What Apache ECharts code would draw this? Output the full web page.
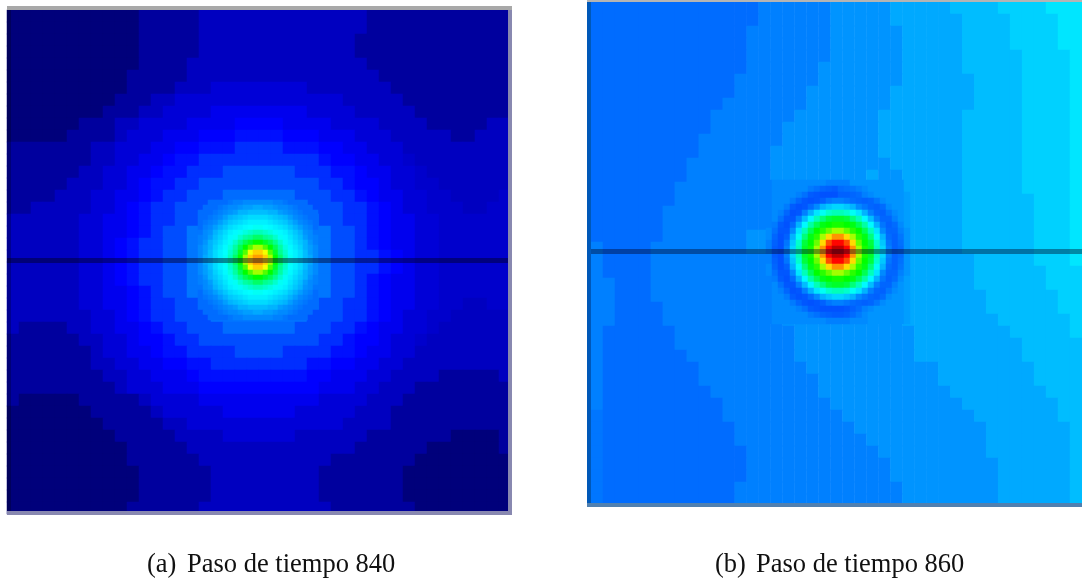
<!DOCTYPE html>
<html><head><meta charset="utf-8">
<style>html,body{margin:0;padding:0;background:#fff}#c{width:1082px;height:581px}</style>
<script src="https://cdn.jsdelivr.net/npm/echarts@6/dist/echarts.min.js"></script>
</head><body><div id="c"></div>
<script>
const captionTags = ["(a)", "(b)"];
const captions = ["Paso de tiempo 840", "Paso de tiempo 860"];
const probeLineA = [[0,250.5],[501,250.5]];
const probeLineB = [[0,249.5],[491,249.5]];
const panelA = [
[1,1,1,1,1,1,1,1,1,1,1,4,4,4,4,4,7,7,7,7,7,7,7,7,7,7,7,7,7,7,4,4,4,4,4,4,4,4,4,4,4,4],
[1,1,1,1,1,1,1,1,1,1,1,4,4,4,4,4,7,7,7,7,7,7,7,7,7,7,7,7,7,7,4,4,4,4,4,4,4,4,4,4,4,4],
[1,1,1,1,1,1,1,1,1,1,1,4,4,4,4,4,7,7,7,7,7,7,7,7,7,7,7,7,7,4,4,4,4,4,4,4,4,4,4,4,4,4],
[1,1,1,1,1,1,1,1,1,1,1,4,4,4,4,4,7,7,7,7,7,7,7,7,7,7,7,7,7,4,4,4,4,4,4,4,4,4,4,4,4,4],
[1,1,1,1,1,1,1,1,1,1,1,4,4,4,4,7,7,7,7,7,7,7,7,7,7,7,7,7,7,7,4,4,4,4,4,4,4,4,4,4,4,4],
[1,1,1,1,1,1,1,1,1,1,4,4,4,4,4,7,7,7,7,7,7,7,7,7,7,7,7,7,7,7,7,4,4,4,4,4,4,4,4,4,4,4],
[1,1,1,1,1,1,1,1,1,1,4,4,4,4,7,7,7,9,9,9,9,9,9,9,9,7,7,7,7,7,7,7,4,4,4,4,4,4,4,4,4,4],
[1,1,1,1,1,1,1,1,1,4,4,4,7,7,9,9,9,9,9,9,9,9,9,9,9,9,9,9,7,7,7,7,7,4,4,4,4,4,4,4,4,4],
[1,1,1,1,1,1,1,1,4,4,4,7,7,9,9,9,9,11,11,11,11,11,11,11,11,9,9,9,9,7,7,7,7,7,4,4,4,4,4,4,4,4],
[1,1,1,1,1,1,4,4,4,7,7,9,9,9,9,11,11,11,11,12.5,12.5,12.5,12.5,11,11,11,11,9,9,9,9,7,7,7,7,4,4,4,4,4,7,7],
[1,1,1,1,1,4,4,4,4,7,9,9,9,11,11,11,12.5,12.5,12.5,14,14,14,14,12.5,12.5,12.5,11,11,11,9,9,9,7,7,7,7,7,4,4,7,7,7],
[4,4,4,4,4,4,4,7,7,9,9,9,11,11,12.5,12.5,14,14,14,17,17,17,17,14,14,14,12.5,12.5,11,11,9,9,9,7,7,7,7,7,7,7,7,7],
[4,4,4,4,4,4,4,7,7,9,9,11,11,12.5,14,14,17,17,17,17,17,17,17,17,17,17,14,12.5,12.5,11,11,9,9,8,7,7,7,7,7,7,7,7],
[4,4,4,4,4,4,7,7,9,9,11,11,12.5,14,14,17,17,17,20,20,20,20,20,20,17,17,17,14,14,12.5,11,11,9,9,8,7,7,7,7,7,7,7],
[4,4,4,4,4,7,7,7,9,9,11,12.5,14,14,17,17,20,20,20,20,20,20,20,20,20,20,17,17,14,12.5,12.5,11,9,9,8,8,7,7,7,7,7,7],
[4,4,4,4,7,7,7,9,9,11,11,12.5,14,17,17,20,20,20,23,23,23,23,23,23,20,20,20,17,17,14,12.5,11,11,9,9,8,8,7,7,7,7,8],
[4,4,7,7,7,7,7,9,9,11,12.5,14,17,17,20,20,20,24,24,24,24,24,24,24,24,20,20,20,17,17,14,12.5,11,9,9,8,8,8,7,7,8,8],
[7,7,7,7,7,7,9,9,11,11,12.5,14,17,17,20,20,24,24,24,24,24,24,24,24,24,24,20,20,17,17,14,12.5,11,11,9,9,8,8,8,8,8,8],
[7,7,7,7,7,7,9,9,11,11,12.5,14,17,20,20,24,24,24,24,24,24,24,24,24,24,24,24,20,20,17,14,12.5,11,11,9,9,8,8,8,8,8,8],
[7,7,7,7,7,7,9,9,11,12.5,14,17,17,20,20,24,24,24,24,24,24,24,24,24,24,24,24,20,20,17,14,12.5,11,11,9,9,8,8,8,8,8,8],
[7,7,7,7,7,7,9,9,11,12.5,14,17,17,20,20,24,24,24,24,24,24,24,24,24,24,24,24,20,20,17,17,14,12.5,11,9,9,8,8,8,8,8,8],
[7,7,7,7,7,7,9,9,11,12.5,14,17,17,20,20,24,24,24,24,24,24,24,24,24,24,24,24,20,20,17,17,14,12.5,11,9,9,8,8,8,8,8,8],
[7,7,7,7,7,7,9,9,11,12.5,14,17,17,20,20,24,24,24,24,24,24,24,24,24,24,24,24,20,20,17,14,12.5,11,11,9,9,8,8,8,8,8,8],
[7,7,7,7,7,7,9,9,11,11,12.5,14,17,20,20,24,24,24,24,24,24,24,24,24,24,24,24,20,20,17,14,12.5,11,11,9,9,8,8,8,8,8,8],
[7,7,7,7,7,7,9,9,11,11,12.5,14,17,17,20,20,24,24,24,24,24,24,24,24,24,24,20,20,17,17,14,12.5,11,11,9,9,8,8,7,7,8,8],
[7,7,7,7,7,7,7,9,9,11,12.5,14,17,17,20,20,20,24,24,24,24,24,24,24,24,20,20,20,17,17,14,12.5,11,9,9,8,8,7,7,7,7,7],
[7,4,4,4,4,7,7,9,9,11,11,12.5,14,17,17,20,20,20,23,23,23,23,23,23,20,20,20,17,17,14,12.5,11,11,9,9,8,7,7,7,7,7,7],
[4,4,4,4,4,4,7,7,9,9,11,12.5,12.5,14,17,17,20,20,20,20,20,20,20,20,20,20,17,17,14,12.5,12.5,11,9,9,8,7,7,7,7,7,7,7],
[4,4,4,4,4,4,4,7,9,9,11,11,12.5,14,14,17,17,17,17,20,20,20,20,17,17,17,17,14,14,12.5,11,11,9,9,7,7,7,7,7,7,7,7],
[4,4,4,4,4,4,4,7,7,9,9,11,11,12.5,12.5,14,14,17,17,17,17,17,17,17,17,14,14,12.5,12.5,11,11,9,9,7,7,7,7,7,7,7,7,7],
[4,4,4,4,4,4,4,4,7,7,9,9,11,11,11,12.5,14,14,14,14,14,14,14,14,14,12.5,12.5,11,11,11,9,9,7,7,7,7,4,4,4,4,4,7],
[4,4,4,4,4,4,4,4,4,7,9,9,9,11,11,11,12.5,12.5,12.5,12.5,12.5,12.5,12.5,12.5,12.5,12.5,11,11,11,9,9,7,7,7,4,4,4,4,4,4,4,4],
[4,1,1,1,1,1,4,4,4,4,4,7,9,9,9,9,11,11,11,11,11,11,11,11,11,11,9,9,9,9,7,7,7,4,4,4,4,4,4,4,4,4],
[1,1,1,1,1,1,1,4,4,4,4,4,7,9,9,9,9,9,11,11,11,11,11,11,9,9,9,9,9,7,7,7,4,4,4,4,4,4,4,4,4,4],
[1,1,1,1,1,1,1,1,4,4,4,4,4,7,7,9,9,9,9,9,9,9,9,9,9,9,9,9,7,7,7,7,4,4,4,4,4,4,4,4,4,4],
[1,1,1,1,1,1,1,1,1,4,4,4,4,4,7,7,7,7,9,9,9,9,9,9,7,7,7,7,7,7,4,4,4,4,4,4,4,1,1,1,1,4],
[1,1,1,1,1,1,1,1,1,1,4,4,4,4,4,7,7,7,7,7,7,7,7,7,7,7,7,7,7,4,4,4,4,4,4,1,1,1,1,1,1,4],
[1,1,1,1,1,1,1,1,1,1,4,4,4,4,4,4,7,7,7,7,7,7,7,7,7,7,7,4,4,4,4,4,4,4,1,1,1,1,1,1,1,1],
[1,1,1,1,1,1,1,1,1,1,1,4,4,4,4,4,4,7,7,7,7,7,7,7,7,7,4,4,4,4,4,4,4,1,1,1,1,1,1,1,1,1],
[1,1,1,1,1,1,1,1,1,1,1,4,4,4,4,4,4,7,7,7,7,7,7,7,7,7,4,4,4,4,4,4,4,1,1,1,1,1,1,1,1,1],
[1,1,1,1,1,1,1,1,1,1,1,4,4,4,4,4,4,7,7,7,7,7,7,7,7,7,4,4,4,4,4,4,4,1,1,1,1,1,1,1,1,1],
[1,1,1,1,1,1,1,1,1,1,4,4,4,4,4,4,7,7,7,7,7,7,7,7,7,7,7,4,4,4,4,4,4,4,1,1,1,1,1,1,1,1]
];
const panelAInner = [
[20,20,23,23,23,23,24,25,25,26,26,26,26,26,26,25,25,24,23,23,23,23,20,20],
[20,23,23,23,24,25,26,26,27,28,28,29,29,28,28,27,26,26,25,24,23,23,23,20],
[23,23,23,24,25,26,27,28,30,30,31,31,31,31,30,30,28,27,26,25,24,23,23,23],
[23,23,24,25,26,28,30,31,32,33,34,34,34,34,33,32,31,30,28,26,25,24,23,23],
[23,24,25,26,28,30,32,33,34,35,36,36,36,36,35,34,33,32,30,28,26,25,24,23],
[23,25,26,28,30,32,34,35,36,37,37.5,38,38,37.5,37,36,35,34,32,30,28,26,25,23],
[24,26,27,30,32,34,36,37,38,39,40,41,41,40,39,38,37,36,34,32,30,27,26,24],
[25,26,28,31,33,35,37,38,40,42,43,45,45,43,42,40,38,37,35,33,31,28,26,25],
[25,27,30,32,34,36,38,40,43,46,48,50,50,48,46,43,40,38,36,34,32,30,27,25],
[26,28,30,33,35,37,39,42,46,50,54,58,58,54,50,46,42,39,37,35,33,30,28,26],
[26,28,31,34,36,37.5,40,43,48,54,62,67,67,62,54,48,43,40,37.5,36,34,31,28,26],
[26,29,31,34,36,38,41,45,50,58,67,72,72,67,58,50,45,41,38,36,34,31,29,26],
[26,29,31,34,36,38,41,45,50,58,67,72,72,67,58,50,45,41,38,36,34,31,29,26],
[26,28,31,34,36,37.5,40,43,48,54,62,67,67,62,54,48,43,40,37.5,36,34,31,28,26],
[26,28,30,33,35,37,39,42,46,50,54,58,58,54,50,46,42,39,37,35,33,30,28,26],
[25,27,30,32,34,36,38,40,43,46,48,50,50,48,46,43,40,38,36,34,32,30,27,25],
[25,26,28,31,33,35,37,38,40,42,43,45,45,43,42,40,38,37,35,33,31,28,26,25],
[24,26,27,30,32,34,36,37,38,39,40,41,41,40,39,38,37,36,34,32,30,27,26,24],
[23,25,26,28,30,32,34,35,36,37,37.5,38,38,37.5,37,36,35,34,32,30,28,26,25,23],
[23,24,25,26,28,30,32,33,34,35,36,36,36,36,35,34,33,32,30,28,26,25,24,23],
[23,23,24,25,26,28,30,31,32,33,34,34,34,34,33,32,31,30,28,26,25,24,23,23],
[23,23,23,24,25,26,27,28,30,30,31,31,31,31,30,30,28,27,26,25,24,23,23,23],
[20,23,23,23,24,25,26,26,27,28,28,29,29,28,28,27,26,26,25,24,23,23,23,20],
[20,20,23,23,23,23,24,25,25,26,26,26,26,26,26,25,25,24,23,23,23,23,20,20]
];
const panelB = [
[23,23,23,23,23,23,23,23,23,23,23,23,23,23,25,25,25,25,25,25,27,27,27,27,27,29,29,29,29,29,31,31,31,31,33,33,33,33,35,35,35],
[23,23,23,23,23,23,23,23,23,23,23,23,23,23,25,25,25,25,25,25,27,27,27,27,27,29,29,29,29,29,29,31,31,31,31,33,33,33,33,35,35],
[23,23,23,23,23,23,23,23,23,23,23,23,23,25,25,25,25,25,25,25,27,27,27,27,27,27,29,29,29,29,29,31,31,31,31,33,33,33,33,35,35],
[23,23,23,23,23,23,23,23,23,23,23,23,23,25,25,25,25,25,25,25,27,27,27,27,27,27,29,29,29,29,29,31,31,31,31,33,33,33,33,35,35],
[23,23,23,23,23,23,23,23,23,23,23,23,23,25,25,25,25,25,25,25,27,27,27,27,27,27,29,29,29,29,29,31,31,31,31,31,33,33,33,33,35],
[23,23,23,23,23,23,23,23,23,23,23,23,23,25,25,25,25,25,25,27,27,27,27,27,27,27,29,29,29,29,29,31,31,31,31,31,33,33,33,33,35],
[23,23,23,23,23,23,23,23,23,23,23,23,25,25,25,25,25,25,25,27,27,27,27,27,27,27,29,29,29,29,29,29,31,31,31,31,33,33,33,33,35],
[23,23,23,23,23,23,23,23,23,23,23,23,25,25,25,25,25,25,27,27,27,27,27,27,27,29,29,29,29,29,29,29,31,31,31,31,33,33,33,33,35],
[23,23,23,23,23,23,23,23,23,23,23,25,25,25,25,25,25,25,27,27,27,27,27,27,27,29,29,29,29,29,29,29,31,31,31,31,33,33,33,33,35],
[23,23,23,23,23,23,23,23,23,23,25,25,25,25,25,25,25,27,27,27,27,27,27,27,29,29,29,29,29,29,29,31,31,31,31,31,33,33,33,33,35],
[23,23,23,23,23,23,23,23,23,23,25,25,25,25,25,25,27,27,27,27,27,27,27,27,29,29,29,29,29,29,29,31,31,31,31,31,33,33,33,33,35],
[23,23,23,23,23,23,23,23,23,25,25,25,25,25,25,25,27,27,27,27,27,27,27,27,29,29,29,29,29,29,29,31,31,31,31,31,33,33,33,33,35],
[23,23,23,23,23,23,23,23,23,25,25,25,25,25,25,27,27,27,27,27,27,27,27,27,29,29,29,29,29,29,29,31,31,31,31,31,33,33,33,33,35],
[23,23,23,23,23,23,23,23,25,25,25,25,25,25,25,27,27,27,27,27,27,27,27,27,27,29,29,29,29,29,29,31,31,31,31,31,33,33,33,33,35],
[23,23,23,23,23,23,23,23,25,25,25,25,25,25,25,27,27,27,27,27,27,27,27,29,27,27,29,29,29,29,29,31,31,31,31,31,33,33,33,33,35],
[23,23,23,23,23,23,23,25,25,25,25,25,25,25,25,27,27,27,27,27,27,27,27,27,27,29,29,29,29,29,29,31,31,31,31,31,33,33,33,33,35],
[23,23,23,23,23,23,23,25,25,25,25,25,25,25,25,27,27,27,27,27,27,27,27,27,27,29,29,29,29,29,29,31,31,31,31,31,31,33,33,33,35],
[23,23,23,23,23,23,25,25,25,25,25,25,25,25,25,27,27,27,27,27,27,27,27,27,27,27,29,29,29,29,29,31,31,31,31,31,31,33,33,33,35],
[23,23,23,23,23,23,25,25,25,25,25,25,25,25,25,27,27,27,27,27,27,27,27,27,27,27,29,29,29,29,29,31,31,31,31,31,31,33,33,33,35],
[23,23,23,23,23,23,25,25,25,25,25,25,25,27,27,27,27,27,27,27,27,27,27,27,27,27,29,29,29,29,29,31,31,31,31,31,31,33,33,33,35],
[25,23,23,23,23,25,25,25,25,25,25,25,25,27,27,27,27,27,27,27,27,27,27,27,27,27,29,29,29,29,29,31,31,31,31,31,31,33,33,33,35],
[25,23,23,23,23,25,25,25,25,25,25,25,25,25,25,27,27,27,27,27,27,27,27,27,27,27,29,29,29,29,29,29,31,31,31,31,31,33,33,33,35],
[25,23,23,23,23,25,25,25,25,25,25,25,25,25,25,27,27,27,27,27,27,27,27,27,27,27,29,29,29,29,29,29,31,31,31,31,31,31,33,33,33],
[25,25,23,23,23,25,25,25,25,25,25,25,25,25,25,27,27,27,27,27,27,27,27,27,27,27,29,29,29,29,29,29,31,31,31,31,31,31,33,33,33],
[25,25,23,23,23,25,25,25,25,25,25,25,25,25,25,27,27,27,27,27,27,27,27,27,27,27,29,29,29,29,29,29,29,31,31,31,31,31,31,33,33],
[25,25,23,23,23,23,25,25,25,25,25,25,25,25,25,25,27,27,27,27,27,27,27,27,27,27,29,29,29,29,29,29,29,31,31,31,31,31,31,33,33],
[25,25,23,23,23,23,25,25,25,25,25,25,25,25,25,25,27,27,27,27,27,27,27,27,27,27,29,29,29,29,29,29,29,29,31,31,31,31,31,31,33],
[25,23,23,23,23,23,23,25,25,25,25,25,25,25,25,25,25,27,27,27,27,27,27,27,27,27,27,29,29,29,29,29,29,29,29,31,31,31,31,31,33],
[25,23,23,23,23,23,23,25,25,25,25,25,25,25,25,25,25,27,27,27,27,27,27,27,27,27,27,29,29,29,29,29,29,29,29,29,31,31,31,31,31],
[25,23,23,23,23,23,23,23,25,25,25,25,25,25,25,25,25,27,27,27,27,27,27,27,27,27,27,29,29,29,29,29,29,29,29,29,31,31,31,31,31],
[25,23,23,23,23,23,23,23,23,25,25,25,25,25,25,25,25,25,27,27,27,27,27,27,27,27,27,27,27,29,29,29,29,29,29,29,29,31,31,31,31],
[25,23,23,23,23,23,23,23,23,25,25,25,25,25,25,25,25,25,25,27,27,27,27,27,27,27,27,27,27,29,29,29,29,29,29,29,29,31,31,31,31],
[25,23,23,23,23,23,23,23,23,23,25,25,25,25,25,25,25,25,25,27,27,27,27,27,27,27,27,27,27,27,29,29,29,29,29,29,29,29,31,31,31],
[25,23,23,23,23,23,23,23,23,23,23,25,25,25,25,25,25,25,25,25,27,27,27,27,27,27,27,27,27,27,27,29,29,29,29,29,29,29,29,31,31],
[24,23,23,23,23,23,23,23,23,23,23,25,25,25,25,25,25,25,25,25,25,27,27,27,27,27,27,27,27,27,27,27,29,29,29,29,29,29,29,31,31],
[24,23,23,23,23,23,23,23,23,23,23,23,25,25,25,25,25,25,25,25,25,25,27,27,27,27,27,27,27,27,27,27,27,29,29,29,29,29,29,29,31],
[24,23,23,23,23,23,23,23,23,23,23,23,25,25,25,25,25,25,25,25,25,25,25,27,27,27,27,27,27,27,27,27,27,29,29,29,29,29,29,29,31],
[24,23,23,23,23,23,23,23,23,23,23,23,23,25,25,25,25,25,25,25,25,25,25,25,27,27,27,27,27,27,27,27,27,29,29,29,29,29,29,29,31],
[24,23,23,23,23,23,23,23,23,23,23,23,23,25,25,25,25,25,25,25,25,25,25,25,25,27,27,27,27,27,27,27,27,27,29,29,29,29,29,29,31],
[24,23,23,23,23,23,23,23,23,23,23,23,23,25,25,25,25,25,25,25,25,25,25,25,25,27,27,27,27,27,27,27,27,27,29,29,29,29,29,29,31],
[24,23,23,23,23,23,23,23,23,23,23,23,25,25,25,25,25,25,25,25,25,25,25,25,25,25,27,27,27,27,27,27,27,27,29,29,29,29,29,29,31],
[24,23,23,23,23,23,23,23,23,23,23,23,25,25,25,25,25,25,25,25,25,25,25,25,25,25,27,27,27,27,27,27,27,27,29,29,29,29,29,29,31]
];
const panelBInner = [
[25,26,26,26,26,26,26,26,26,26,25,25,25,25,27,27,27,27,27,27,27,27,27,29],
[25,26,26,26,26,26,26,24.5,23.5,22.5,22,21.5,23,23.5,24,25,26,27,27,27,27,27,27,29],
[25,26,26,26,26,25,23.5,21.5,21,20.5,20.5,20.5,22,22,22.5,23,25,26,27,27,27,27,27,28],
[25,26,26,26,24.5,22.5,21,20.5,21,22,24,25,25,24,23,22.5,22,22.5,24,26,27,27,27,28],
[25,26,26,24.5,21.5,20.5,21,23,26,30,32,33.5,33.5,32,30,26,24,22.5,22,23,26,27,27,28],
[25,26,25,22.5,20.5,21,25,30,35,38,40,41,41,40,38,35,30,25,22.5,22,24,26,27,28],
[25,26,23.5,21,21,25,31,37,41,44,47,48,48,47,44,41,37,31,25,22.5,22.5,25,27,28],
[25,24.5,21.5,20.5,23,30,37,42,46,49,50,51,51,50,49,46,42,37,30,24,22,23,26,28],
[26,23.5,21,21,26,35,41,46,50,52,55,58,58,55,52,50,46,41,35,26,22.5,22.5,25,27],
[26,22.5,20.5,22,30,38,44,49,52,58,66,73,73,66,58,52,49,44,38,30,23,22,24,27],
[25,22,20.5,24,32,40,47,50,55,66,80,87,87,80,66,55,50,47,40,32,24,22,23.5,27],
[25,21.5,20.5,25,33.5,41,48,51,58,73,87,94,94,87,73,58,51,48,41,33.5,25,22,23,27],
[25,21.5,20.5,25,33.5,41,48,51,58,73,87,94,94,87,73,58,51,48,41,33.5,25,22,23,27],
[25,22,20.5,24,32,40,47,50,55,66,80,87,87,80,66,55,50,47,40,32,24,22,23.5,27],
[26,22.5,20.5,22,30,38,44,49,52,58,66,73,73,66,58,52,49,44,38,30,23,22,24,27],
[26,23.5,21,21,26,35,41,46,50,52,55,58,58,55,52,50,46,41,35,26,22.5,22.5,25,27],
[25,24.5,21.5,20.5,23,30,37,42,46,49,50,51,51,50,49,46,42,37,30,24,22,23,26,28],
[25,26,23.5,21,21,25,31,37,41,44,47,48,48,47,44,41,37,31,25,22.5,22.5,25,27,28],
[25,26,25,22.5,20.5,21,25,30,35,38,40,41,41,40,38,35,30,25,22.5,22,24,26,27,28],
[25,26,26,24.5,21.5,20.5,21,23,26,30,32,33.5,33.5,32,30,26,24,22.5,22,23,26,27,27,28],
[25,26,26,26,24.5,22.5,21,20.5,21,22,24,25,25,24,23,22.5,22,22.5,24,26,27,27,27,28],
[25,26,26,26,26,25,23.5,21.5,21,20.5,20.5,20.5,20.5,21,22,23,25,26,27,27,27,27,27,28],
[25,26,26,26,26,26,26,24.5,23.5,22.5,22,21.5,21.5,22,23,24.5,26,27,27,27,27,27,27,28],
[25,26,26,26,26,26,26,26,26,26,25,25,25,25,26,26,26,27,27,27,27,27,27,28]
];
const jetStops = ['#000070','#0000ff','#0080ff','#00ffff','#00ff00','#ffff00','#ff8000','#ff0000','#800000'];

function cells(rows){const out=[];rows.forEach((r,j)=>r.forEach((v,i)=>out.push([i,j,v])));return out;}
function idx(n){return Array.from({length:n},(_,i)=>String(i));}
const boxes=[
 {left:7,top:10,width:504,height:504,rows:panelA},
 {left:198,top:200,width:120,height:120,rows:panelAInner},
 {left:591,top:2,width:492,height:504,rows:panelB},
 {left:766,top:180,width:144,height:144,rows:panelBInner}
];
const grid=[],xAxis=[],yAxis=[],series=[];
boxes.forEach((b,k)=>{
 grid.push({left:b.left,top:b.top,width:b.width,height:b.height,containLabel:false});
 xAxis.push({type:'category',gridIndex:k,data:idx(b.rows[0].length),show:false});
 yAxis.push({type:'category',gridIndex:k,data:idx(b.rows.length),inverse:true,show:false});
 series.push({type:'heatmap',xAxisIndex:k,yAxisIndex:k,data:cells(b.rows),progressive:0,animation:false,z:2+k,emphasis:{disabled:true},itemStyle:{borderWidth:0}});
});
[[{left:7,top:10,width:501,height:501},probeLineA,0.45],[{left:591,top:2,width:491,height:501},probeLineB,0.4]].forEach(([b,line,a])=>{
 const k=grid.length;
 grid.push({left:b.left,top:b.top,width:b.width,height:b.height});
 xAxis.push({type:'value',gridIndex:k,min:0,max:b.width,show:false});
 yAxis.push({type:'value',gridIndex:k,min:0,max:b.height,inverse:true,show:false});
 series.push({type:'line',xAxisIndex:k,yAxisIndex:k,data:line,symbol:'none',silent:true,animation:false,z:10,lineStyle:{color:'rgba(0,0,30,'+a+')',width:5}});
});
const frame=(x,y,w,h,fill)=>({type:'rect',shape:{x,y,width:w,height:h},style:{fill},z:100,silent:true});
const capStyle={fontFamily:'"Liberation Serif"',fontSize:26.5,fontWeight:'normal',color:'#111'};
const chart=echarts.init(document.getElementById('c'),null,{renderer:'canvas'});
chart.setOption({
 animation:false,backgroundColor:'#fff',
 grid,xAxis,yAxis,series,
 visualMap:{type:'continuous',show:false,min:0,max:100,dimension:2,seriesIndex:[0,1,2,3],inRange:{color:jetStops}},
 tooltip:{show:false},
 graphic:{elements:[
  frame(7,6,505,4,'#a8a8a8'),frame(508,10,4,501,'#8888b0'),frame(7,511,505,4,'#8888b0'),frame(7,10,4,501,'rgba(0,0,0,0.25)'),
  frame(587,0,495,2,'#b4b4b4'),frame(587,2,4,501,'#0058b8'),frame(587,503,495,4,'#5080b0')
 ]},
 title:[
  {text:captionTags[0],left:147,top:552,textStyle:capStyle,padding:0},
  {text:captions[0],left:187,top:552,textStyle:capStyle,padding:0},
  {text:captionTags[1],left:715,top:552,textStyle:capStyle,padding:0},
  {text:captions[1],left:756,top:552,textStyle:capStyle,padding:0}
 ]
});
</script></body></html>
